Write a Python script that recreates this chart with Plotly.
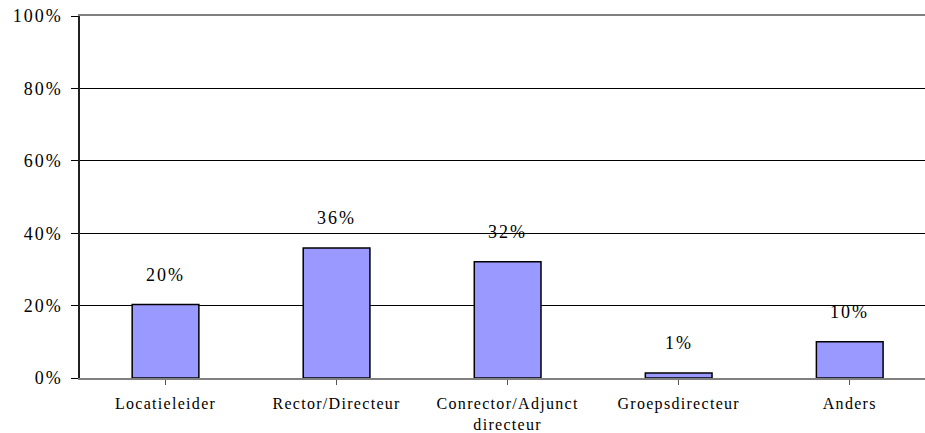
import plotly.graph_objects as go

categories = ["Locatieleider", "Rector/Directeur", "Conrector/Adjunct<br>directeur", "Groepsdirecteur", "Anders"]
values = [20.3, 35.9, 32.1, 1.4, 10.0]
labels = ["20%", "36%", "32%", "1%", "10%"]

tick_vals = [0, 20, 40, 60, 80, 100]
tick_text = ["0%", "20%", "40%", "60%", "80%", "100%"]

font_family = "Liberation Serif, Times New Roman, serif"

fig = go.Figure()
fig.add_trace(go.Bar(
    x=list(range(len(categories))),
    y=values,
    width=0.39,
    marker=dict(color="#9999FF", line=dict(color="#000000", width=1.5)),
    hoverinfo="skip",
))

for i, (v, t) in enumerate(zip(values, labels)):
    fig.add_annotation(x=i, y=v, text=t, showarrow=False, yshift=30,
                       yanchor="middle", xanchor="center",
                       font=dict(family=font_family, size=18, color="#000"))

fig.update_layout(
    width=925, height=433,
    margin=dict(l=80, r=0, t=16, b=55),
    paper_bgcolor="white", plot_bgcolor="white",
    showlegend=False,
    font=dict(family=font_family, color="#000"),
    xaxis=dict(
        automargin=False,
        range=[-0.5, 4.44],
        tickmode="array",
        tickvals=list(range(len(categories))),
        ticktext=categories,
        tickson="boundaries",
        ticks="outside", ticklen=5, tickcolor="#555", tickwidth=1,
        showgrid=False, zeroline=False,
        showline=True, linecolor="#808080", linewidth=2, mirror=True,
        tickfont=dict(family=font_family, size=16, color="#000"),
        ticklabelstandoff=5,
    ),
    yaxis=dict(
        automargin=False,
        range=[0, 100],
        tickmode="array", tickvals=tick_vals, ticktext=tick_text,
        ticks="outside", ticklen=7, tickcolor="#000", tickwidth=1,
        showgrid=True, gridcolor="#000000", gridwidth=1,
        zeroline=False,
        showline=True, linecolor="#222", linewidth=1.5,
        tickfont=dict(family=font_family, size=18, color="#000"),
        ticklabelstandoff=5,
    ),
)

css = ("body{margin:0;overflow:hidden}"
       ".xtick text{letter-spacing:1.3px}"
       ".ytick text{letter-spacing:2px}"
       ".annotation-text{letter-spacing:2px}")
post = ("var s=document.createElement('style');s.innerHTML='" + css +
        "';document.head.appendChild(s);")

fig.write_html("out.html", post_script=post, config={"displayModeBar": False})
